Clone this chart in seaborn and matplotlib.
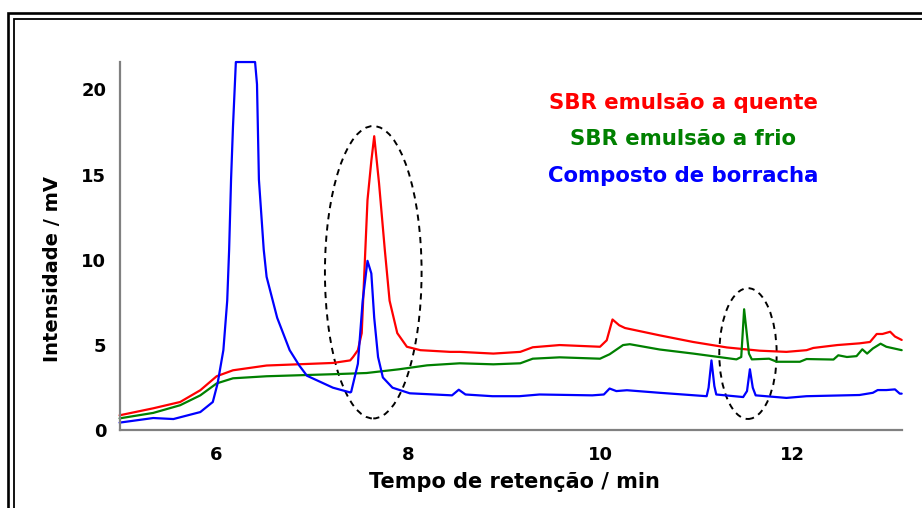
import matplotlib
matplotlib.use("Agg")
import matplotlib.pyplot as plt
from matplotlib.patches import Ellipse
from matplotlib.lines import Line2D
import pandas as pd
import seaborn as sns

# Retention time (min) and detector signal (mV) for each sample
quente_t = [5.00, 5.35, 5.63, 5.84, 6.01, 6.18, 6.53, 7.22, 7.40, 7.43, 7.48, 7.52,
            7.55, 7.58, 7.62, 7.65, 7.70, 7.76, 7.81, 7.89, 7.99, 8.13, 8.44, 8.54,
            8.89, 9.17, 9.30, 9.58, 10.00, 10.07, 10.13, 10.20, 10.26, 10.62, 10.97,
            11.32, 11.66, 11.94, 12.15, 12.22, 12.47, 12.70, 12.81, 12.88, 12.94,
            13.02, 13.07, 13.14]
quente_mv = [0.88, 1.29, 1.66, 2.35, 3.17, 3.52, 3.80, 3.95, 4.10, 4.30, 4.70, 5.70,
             9.60, 13.5, 15.8, 17.25, 14.5, 10.6, 7.60, 5.70, 4.90, 4.70, 4.60, 4.60,
             4.50, 4.60, 4.87, 5.00, 4.90, 5.28, 6.50, 6.16, 6.00, 5.57, 5.18,
             4.86, 4.67, 4.60, 4.70, 4.83, 5.00, 5.10, 5.18, 5.65, 5.65,
             5.78, 5.50, 5.30]

frio_t = [5.00, 5.35, 5.63, 5.84, 6.01, 6.18, 6.53, 7.22, 7.57, 7.91, 8.20, 8.54,
          8.89, 9.17, 9.30, 9.58, 10.00, 10.10, 10.24, 10.31, 10.62, 10.97, 11.42,
          11.47, 11.50, 11.55, 11.58, 11.76, 11.84, 12.08, 12.15, 12.43, 12.48,
          12.57, 12.67, 12.73, 12.78, 12.84, 12.92, 12.98, 13.14]
frio_mv = [0.70, 1.02, 1.47, 2.05, 2.75, 3.05, 3.17, 3.29, 3.36, 3.58, 3.81, 3.93,
           3.87, 3.93, 4.20, 4.28, 4.20, 4.46, 5.00, 5.05, 4.74, 4.50, 4.16,
           4.30, 7.10, 4.50, 4.16, 4.20, 4.02, 4.02, 4.18, 4.15, 4.40,
           4.30, 4.35, 4.75, 4.50, 4.80, 5.08, 4.90, 4.70]

composto_t = [5.00, 5.35, 5.56, 5.84, 5.97, 6.02, 6.08, 6.12, 6.14, 6.16, 6.18, 6.21,
              6.41, 6.43, 6.45, 6.50, 6.53, 6.64, 6.77, 6.87, 6.95, 7.22, 7.40, 7.41,
              7.48, 7.53, 7.58, 7.62, 7.65, 7.69, 7.74, 7.84, 8.02, 8.46, 8.53, 8.60,
              8.88, 9.16, 9.37, 9.92, 10.04, 10.10, 10.17, 10.28, 10.62, 11.11, 11.13,
              11.16, 11.19, 11.21, 11.49, 11.53, 11.56, 11.59, 11.62, 11.94, 12.15,
              12.70, 12.84, 12.89, 12.98, 13.07, 13.12, 13.14]
composto_mv = [0.45, 0.72, 0.66, 1.07, 1.66, 2.75, 4.70, 7.60, 10.6, 14.7, 17.8, 21.6,
               21.6, 20.3, 14.7, 10.6, 9.00, 6.60, 4.70, 3.80, 3.20, 2.50, 2.22, 2.25,
               3.90, 7.60, 9.94, 9.20, 6.60, 4.30, 3.10, 2.50, 2.17, 2.05, 2.38, 2.10,
               2.00, 2.00, 2.10, 2.05, 2.10, 2.45, 2.30, 2.35, 2.20, 2.00, 2.50,
               4.10, 2.60, 2.10, 1.95, 2.30, 3.58, 2.50, 2.05, 1.90, 2.00,
               2.07, 2.20, 2.36, 2.36, 2.40, 2.15, 2.15]

series_names = ["SBR emulsão a quente", "SBR emulsão a frio", "Composto de borracha"]
series_colors = ["#ff0000", "#008000", "#0000ff"]

x_ticks = [5, 6, 8, 10, 12, 13.14]
x_tick_labels = ["", "6", "8", "10", "12", ""]
y_ticks = [0, 5, 10, 15, 20, 21.62]
y_tick_labels = ["0", "5", "10", "15", "20", ""]

# Dashed regions of interest: centre (min, mV) and full width/height
region_t = [7.64, 11.54]
region_mv = [9.27, 4.50]
region_w = [1.006, 0.597]
region_h = [17.15, 7.67]

frames = []
for name, t, mv in zip(series_names,
                       [quente_t, frio_t, composto_t],
                       [quente_mv, frio_mv, composto_mv]):
    frames.append(pd.DataFrame({"tempo": t, "sinal": mv, "amostra": name}))
df = pd.concat(frames, ignore_index=True)

sns.set_theme(style="white")
plt.rcParams["font.family"] = ["DejaVu Sans"]
plt.rcParams["font.weight"] = "bold"
plt.rcParams["text.color"] = "black"

W, H = 922, 508
fig = plt.figure(figsize=(W / 100, H / 100), dpi=100)
ax = fig.add_axes([119.6 / W, 1 - 430.3 / H, (901.7 - 119.6) / W, (430.3 - 61.7) / H])

sns.lineplot(data=df, x="tempo", y="sinal", hue="amostra", hue_order=series_names,
             palette=dict(zip(series_names, series_colors)), estimator=None,
             sort=False, legend=False, linewidth=1.6, ax=ax)
for ln in ax.lines:
    ln.set_clip_on(False)

for ct, cm, w, h in zip(region_t, region_mv, region_w, region_h):
    ax.add_patch(Ellipse((ct, cm), w, h, fill=False, edgecolor="black",
                         linewidth=1.4, linestyle=(0, (3.2, 2.6)), clip_on=False))

ax.set_xlim(5, 13.14)
ax.set_ylim(0, 21.62)
ax.set_xticks(x_ticks)
ax.set_xticklabels(x_tick_labels)
ax.set_yticks(y_ticks)
ax.set_yticklabels(y_tick_labels)
ax.set_xlabel("")
ax.set_ylabel("")
ax.tick_params(axis="both", which="major", direction="out", length=8, width=1.1,
               color="#444444", labelsize=13, labelcolor="black")
ax.tick_params(axis="x", pad=3.5)
ax.tick_params(axis="y", pad=1.5)
for lab in ax.get_xticklabels() + ax.get_yticklabels():
    lab.set_fontweight("bold")

for side in ["top", "right"]:
    ax.spines[side].set_visible(False)
for side in ["left", "bottom"]:
    ax.spines[side].set_color("#808080")
    ax.spines[side].set_linewidth(1.6)

fig.text(514.7 / W, 1 - 488 / H, "Tempo de retenção / min", ha="center",
         va="baseline", fontsize=15, fontweight="bold", color="black")
fig.text(53 / W, 1 - 269 / H, "Intensidade / mV", ha="center", va="center",
         rotation=90, fontsize=14, fontweight="bold", color="black")

label_baselines = [109.3, 145.3, 181.7]
for name, color, yb in zip(series_names, series_colors, label_baselines):
    fig.text(683 / W, 1 - yb / H, name, color=color, ha="center", va="baseline",
             fontsize=15.3, fontweight="bold")

# Double border round the panel
for x0, y0, lw in [(7.5, 13.0, 1.9), (13.5, 18.5, 1.3)]:
    fig.add_artist(Line2D([x0 / W, x0 / W, 1.05], [-0.05, 1 - y0 / H, 1 - y0 / H],
                          transform=fig.transFigure, color="black", linewidth=lw,
                          solid_joinstyle="miter"))

fig.savefig("out.png", dpi=100)
